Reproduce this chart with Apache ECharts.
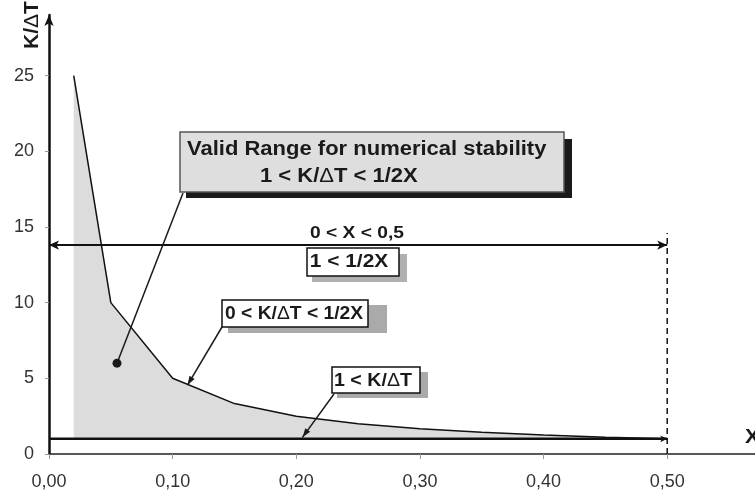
<!DOCTYPE html>
<html><head><meta charset="utf-8">
<script src="https://cdn.jsdelivr.net/npm/echarts@6/dist/echarts.min.js"></script>
<style>html,body{margin:0;padding:0;background:#fff}#c{width:755px;height:493px}</style>
</head><body><div id="c"></div>
<script>
// ---- data ----
const xTicks = [0, 0.1, 0.2, 0.3, 0.4, 0.5];
const yTicks = [0, 5, 10, 15, 20, 25];
const curveX = [0.02, 0.05, 0.10, 0.15, 0.20, 0.25, 0.30, 0.35, 0.40, 0.45, 0.50];
const curveY = [25, 10, 5, 3.33, 2.5, 2.0, 1.67, 1.43, 1.25, 1.11, 1.0];
const baseX = [0, 0.5];
const baseY = [1, 1];
const rangeX = [0, 0.5];
const rangeY = 13.8;
const limitX = 0.5;
const limitY = [0, 14.6];
const dotPoint = [0.055, 6];
const midTip = [0.112, 4.55];
const lowTip = [0.205, 1.1];

const FONT = '"Liberation Sans", Arial, sans-serif';
const INK = '#1a1a1a';
const chart = echarts.init(document.getElementById('c'), null, {renderer: 'canvas'});
const fmt = v => v.toFixed(2).replace('.', ',');

chart.setOption({
  animation: false,
  grid: {left: 49, right: 0, top: 15, bottom: 39, containLabel: false},
  xAxis: {
    type: 'value', min: 0, max: 0.571, interval: 0.1,
    axisLine: {show: true, onZero: false, lineStyle: {color: '#222', width: 1.5}},
    axisTick: {show: true, length: 5, customValues: xTicks, lineStyle: {color: '#999', width: 1}},
    axisLabel: {customValues: xTicks, formatter: fmt, color: '#333', fontSize: 18, fontFamily: FONT, margin: 19},
    splitLine: {show: false}
  },
  yAxis: {
    type: 'value', min: 0, max: 29, interval: 5,
    axisLine: {show: true, onZero: false, symbol: ['none', 'arrow'], symbolSize: [7, 11], lineStyle: {color: '#111', width: 2.5}},
    axisTick: {show: true, length: 4, customValues: yTicks, lineStyle: {color: '#999', width: 1}},
    axisLabel: {customValues: yTicks, color: '#333', fontSize: 18, fontFamily: FONT, margin: 15},
    splitLine: {show: false}
  },
  series: [
    {
      type: 'line', data: curveX.map((x, i) => [x, curveY[i]]), symbol: 'none', z: 2,
      lineStyle: {color: '#111', width: 1.5},
      areaStyle: {color: '#dcdcdc', opacity: 1, origin: 1}
    },
    {
      type: 'line', data: baseX.map((x, i) => [x, baseY[i]]), z: 3,
      symbol: (v, p) => p.dataIndex === baseX.length - 1 ? 'arrow' : 'none',
      symbolSize: [5, 7], symbolRotate: -90, showSymbol: true,
      itemStyle: {color: '#111'},
      lineStyle: {color: '#111', width: 2.5}
    },
    {
      type: 'line', data: limitY.map(y => [limitX, y]), symbol: 'none', z: 3,
      lineStyle: {color: '#111', width: 1.5, type: [6, 4]}
    },
    {
      type: 'line', data: [], z: 4,
      markLine: {
        silent: true, symbol: ['arrow', 'arrow'], symbolSize: [7, 10],
        lineStyle: {color: '#111', width: 2, type: 'solid'},
        label: {show: false},
        data: [[{coord: [rangeX[0], rangeY]}, {coord: [rangeX[1], rangeY]}]]
      }
    }
  ]
});

// ---- annotations ----
const px = p => chart.convertToPixel({gridIndex: 0}, p);
function head(tip, from, len, w) {
  len = len || 9; w = w || 3;
  const dx = tip[0] - from[0], dy = tip[1] - from[1];
  const L = Math.hypot(dx, dy), ux = dx / L, uy = dy / L;
  const bx = tip[0] - ux * len, by = tip[1] - uy * len;
  return {type: 'polygon', z: 20, shape: {points: [tip, [bx - uy * w, by + ux * w], [bx + uy * w, by - ux * w]]}, style: {fill: INK}};
}
function line(a, b) {
  return {type: 'line', z: 20, shape: {x1: a[0], y1: a[1], x2: b[0], y2: b[1]}, style: {stroke: INK, lineWidth: 1.5}};
}
function txt(t, x, y, size, sx, align) {
  return {
    type: 'text', z: 30, x: x, y: y, scaleX: sx,
    style: {
      text: t, fontSize: size, fontWeight: 'bold', fontFamily: FONT, fill: INK,
      align: align || 'left', verticalAlign: 'middle',
      rich: {d: {fontSize: size, fontWeight: 'normal', fontFamily: FONT, fill: INK}}
    }
  };
}
function rect(x, y, w, h, fill, stroke) {
  return {type: 'rect', z: 25, shape: {x: x, y: y, width: w, height: h},
    style: {fill: fill, stroke: stroke || null, lineWidth: stroke ? 1.5 : 0}};
}

const dot = px(dotPoint), mt = px(midTip), lt = px(lowTip);
const g = [];
// big box
g.push(rect(186, 139, 386, 59, '#1a1a1a'));
g.push(rect(180, 132, 384, 60, '#dedede', '#555'));
g.push(txt('Valid Range for numerical stability', 187, 149, 20, 1.10));
g.push(txt('1 < K/{d|Δ}T < 1/2X', 260, 176, 20, 1.10));
g.push(line([183, 193], dot));
g.push({type: 'circle', z: 20, shape: {cx: dot[0], cy: dot[1], r: 4.5}, style: {fill: INK}});
// range label
g.push(txt('0 < X < 0,5', 357, 233, 17, 1.13, 'center'));
g.push(rect(312, 254, 95, 28, '#b0b0b0'));
g.push(rect(307, 248, 92, 28, '#ffffff', '#111'));
g.push(txt('1 < 1/2X', 349, 262, 19, 1.10, 'center'));
// mid box
g.push(rect(228, 305, 159, 28, '#aaaaaa'));
g.push(rect(222, 300, 146, 27, '#ffffff', '#111'));
g.push(txt('0 < K/{d|Δ}T < 1/2X', 225, 314, 18, 1.07));
g.push(line([222, 327], mt));
g.push(head(mt, [222, 327]));
// low box
g.push(rect(337, 372, 91, 26, '#aaaaaa'));
g.push(rect(332, 367, 88, 26, '#ffffff', '#111'));
g.push(txt('1 < K/{d|Δ}T', 334, 381, 18, 1.09));
g.push(line([334, 394], lt));
g.push(head(lt, [334, 394]));
// axis names
g.push({type: 'text', z: 30, x: 32, y: 25, rotation: Math.PI / 2, scaleX: 1.05,
  style: {text: 'K/{d|Δ}T', fontSize: 20, fontWeight: 'bold', fontFamily: FONT, fill: INK, align: 'center', verticalAlign: 'middle',
    rich: {d: {fontSize: 20, fontWeight: 'normal', fontFamily: FONT, fill: INK}}}});
g.push(txt('X', 745, 437, 20, 1.1));

chart.setOption({graphic: g});
</script>
</body></html>
